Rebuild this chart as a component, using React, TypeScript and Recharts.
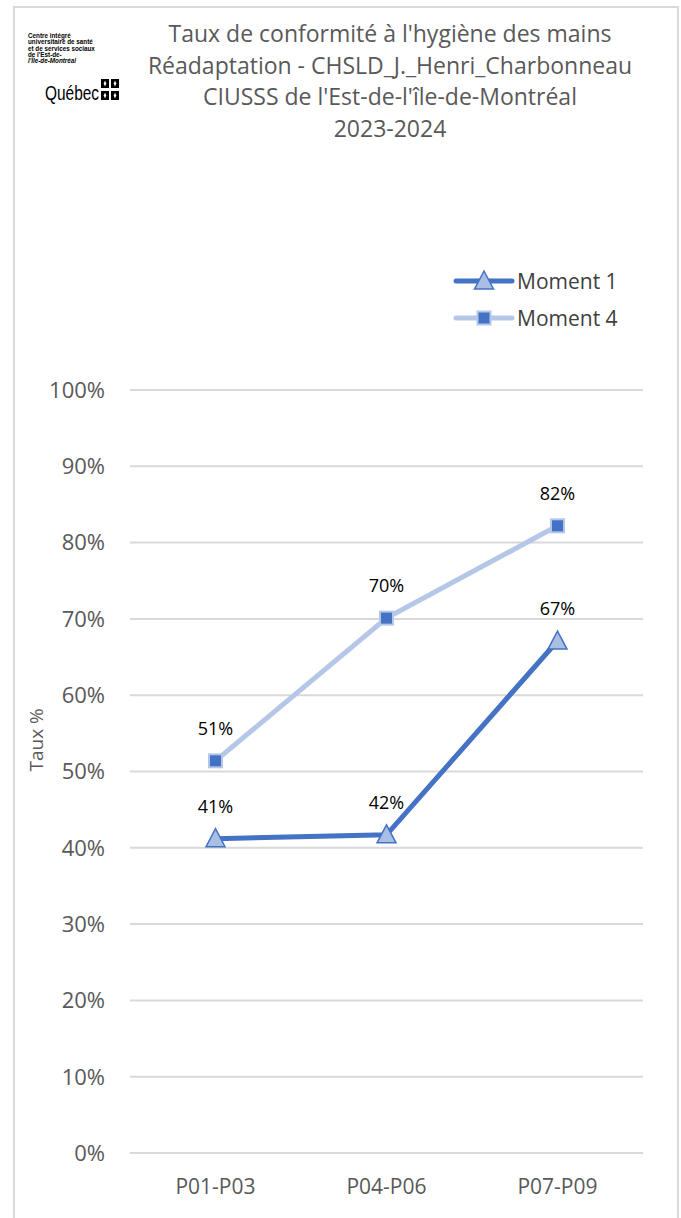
import { LineChart, Line, XAxis, YAxis, CartesianGrid, LabelList, Legend } from 'recharts'

const categories = ['P01-P03', 'P04-P06', 'P07-P09']
const moment1 = [41.2, 41.7, 67.1]
const moment4 = [51.4, 70.1, 82.2]
const yTicks = [0, 10, 20, 30, 40, 50, 60, 70, 80, 90, 100]
const titleLines = [
  "Taux de conformité à l'hygiène des mains",
  'Réadaptation - CHSLD_J._Henri_Charbonneau',
  "CIUSSS de l'Est-de-l'île-de-Montréal",
  '2023-2024',
]
const logoLines = ['Centre intégré', 'universitaire de santé', 'et de services sociaux', "de l'Est-de-", "l'Île-de-Montréal"]

const data = categories.map((periode, i) => ({ periode, moment1: moment1[i], moment4: moment4[i] }))

const FONT = '"Open Sans", "Noto Sans", sans-serif'
const DARK = '#4472C4'
const LIGHT = '#B4C7E7'
const TRI_FILL = '#A9BEE3'

const Triangle = ({ cx, cy }: any) => (
  <polygon
    points={`${cx},${cy - 10} ${cx - 9.5},${cy + 8} ${cx + 9.5},${cy + 8}`}
    fill={TRI_FILL}
    stroke={DARK}
    strokeWidth={1.5}
  />
)

const Square = ({ cx, cy }: any) => (
  <rect x={cx - 6.5} y={cy - 6.5} width={13} height={13} fill={DARK} stroke={LIGHT} strokeWidth={2} />
)

const LegendContent = () => (
  <svg width={200} height={70}>
    <line x1={6} y1={16} x2={62} y2={16} stroke={DARK} strokeWidth={5} strokeLinecap="round" />
    <Triangle cx={34} cy={16} />
    <text x={67} y={16} dy="0.36em" fontSize={21} fill="#404040" fontFamily={FONT}>Moment 1</text>
    <line x1={6} y1={53} x2={62} y2={53} stroke={LIGHT} strokeWidth={5} strokeLinecap="round" />
    <Square cx={34} cy={53} />
    <text x={67} y={53} dy="0.36em" fontSize={21} fill="#404040" fontFamily={FONT}>Moment 4</text>
  </svg>
)

// petit logo en haut à gauche
const Logo = () => (
  <svg style={{ position: 'absolute', left: 0, top: 0 }} width={130} height={110}>
    {logoLines.map((l, i) => (
      <text
        key={l}
        x={28}
        y={38 + i * 6.3}
        fontSize={6.3}
        fontWeight={700}
        fontStyle={i === 4 ? 'italic' : 'normal'}
        fontFamily='"Liberation Sans", sans-serif'
        fill="#000"
      >
        {l}
      </text>
    ))}
    <text x={45} y={100} fontSize={21} textLength={54} lengthAdjust="spacingAndGlyphs" fontFamily='"Liberation Sans", sans-serif' fill="#000">
      Québec
    </text>
    {[[101, 79], [111, 79], [101, 91], [111, 91]].map(([x, y]) => (
      <g key={`${x}-${y}`}>
        <rect x={x} y={y} width={8} height={9} fill="#000" />
        <path d={`M${x + 4} ${y + 1.5} L${x + 5.3} ${y + 4.5} L${x + 4} ${y + 7.5} L${x + 2.7} ${y + 4.5} Z`} fill="#fff" />
      </g>
    ))}
  </svg>
)

export default function App() {
  return (
    <div style={{ position: 'absolute', left: 0, top: 0, width: 681, height: 1218, background: '#fff', overflow: 'hidden' }}>
      <div style={{ position: 'absolute', left: 13, top: 6, width: 662, height: 1240, border: '2px solid #D9D9D9' }} />
      <Logo />
      <div style={{ position: 'absolute', left: 90, width: 600, top: 18, textAlign: 'center', fontFamily: FONT, fontSize: 23, lineHeight: '31.5px', color: '#595959' }}>
        {titleLines.map((t) => (
          <div key={t}>{t}</div>
        ))}
      </div>
      <div style={{ position: 'absolute', left: 0, top: 0 }}>
        <LineChart width={681} height={1218} data={data} margin={{ top: 390, right: 38, bottom: 15, left: 0 }}>
          <CartesianGrid horizontal vertical={false} stroke="#D9D9D9" strokeWidth={2} />
          <XAxis
            dataKey="periode"
            height={50}
            padding={{ left: 85.5, right: 85.5 }}
            axisLine={false}
            tickLine={false}
            tickMargin={20}
            tick={{ fill: '#595959', fontSize: 21, fontFamily: FONT }}
          />
          <YAxis
            width={130}
            domain={[0, 100]}
            ticks={yTicks}
            interval={0}
            axisLine={false}
            tickLine={false}
            tickMargin={19}
            tickFormatter={(v: number) => `${v}%`}
            tick={{ fill: '#595959', fontSize: 22, fontFamily: FONT }}
            label={{ value: 'Taux %', angle: -90, position: 'insideLeft', offset: 36, fill: '#595959', fontSize: 19, fontFamily: FONT }}
          />
          <Legend
            content={<LegendContent />}
            layout="vertical"
            align="center"
            verticalAlign="middle"
            wrapperStyle={{ position: 'absolute', top: 265, left: 450, width: 200 }}
          />
          <Line
            type="linear"
            dataKey="moment4"
            name="Moment 4"
            stroke={LIGHT}
            strokeWidth={5}
            dot={(p: any) => <Square key={p.index} {...p} />}
            activeDot={false}
            isAnimationActive={false}
          >
            <LabelList
              dataKey="moment4"
              position="top"
              offset={26}
              formatter={(v: any) => `${Math.round(v)}%`}
              fill="#000"
              fontSize={18}
              fontFamily={FONT}
            />
          </Line>
          <Line
            type="linear"
            dataKey="moment1"
            name="Moment 1"
            stroke={DARK}
            strokeWidth={5}
            dot={(p: any) => <Triangle key={p.index} {...p} />}
            activeDot={false}
            isAnimationActive={false}
          >
            <LabelList
              dataKey="moment1"
              position="top"
              offset={26}
              formatter={(v: any) => `${Math.round(v)}%`}
              fill="#000"
              fontSize={18}
              fontFamily={FONT}
            />
          </Line>
        </LineChart>
      </div>
    </div>
  )
}
